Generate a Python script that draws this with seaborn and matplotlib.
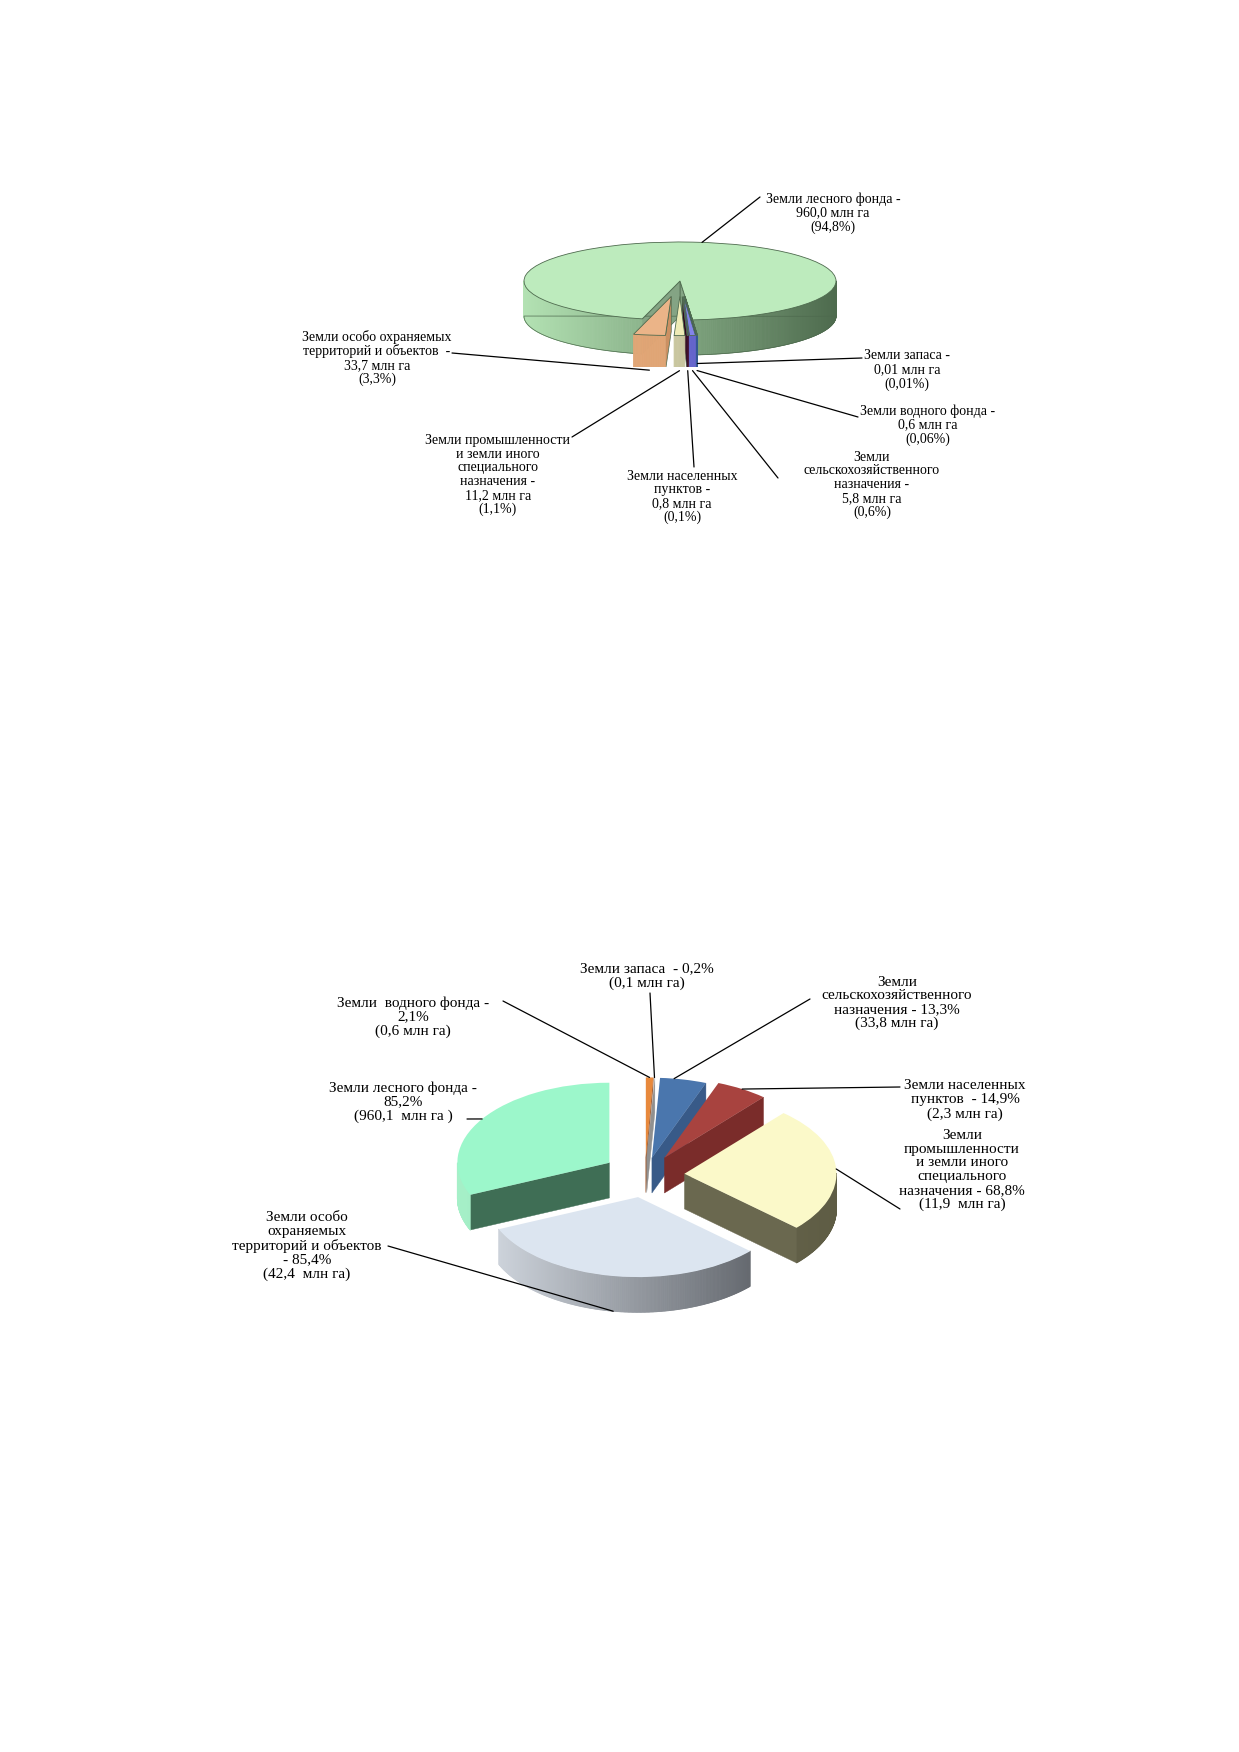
import numpy as np
import pandas as pd
import matplotlib
matplotlib.use("Agg")
import matplotlib.pyplot as plt
from matplotlib.patches import Polygon
from matplotlib.collections import PolyCollection
from matplotlib.colors import to_rgb
import seaborn as sns

# ---------------- data: chart 1 ----------------
c1_names = ["Земли особо охраняемых\nтерриторий и объектов  -",
            "Земли промышленности\nи земли иного\nспециального\nназначения -",
            "Земли населенных\nпунктов -",
            "Земли\nсельскохозяйственного\nназначения -",
            "Земли водного фонда -",
            "Земли запаса -",
            "Земли лесного фонда -"]
c1_area = [33.7, 11.2, 0.8, 5.8, 0.6, 0.01, 960.0]      # млн га
c1_share = [3.3, 1.1, 0.1, 0.6, 0.06, 0.01, 94.8]       # %
c1_top = ["#EBB488", "#EEEBB6", "#5E1A42", "#8383EA", "#4F7FC0", "#9A9A9A", "#BDEBBD"]
c1_side_light = ["#E6AC7C", "#D2CFA8", "#4A1232", "#7272DA", "#3A62A0", "#8A8A8A", "#B3E2B3"]
c1_side_dark = ["#D99C6C", "#BFBC96", "#3A0C28", "#5A5AC0", "#2E5088", "#6A6A6A", "#4E6B4E"]
c1_cut = ["#CB9062", "#B1AE88", "#30081F", "#4C4CA8", "#2A4A80", "#606060", "#84A484"]

# ---------------- data: chart 2 ----------------
c2_fmt = ["Земли  водного фонда -\n{p}%\n({a} млн га)",
          "Земли запаса  - {p}%\n({a} млн га)",
          "Земли\nсельскохозяйственного\nназначения - {p}%\n({a} млн га)",
          "Земли населенных\nпунктов  - {p}%\n({a} млн га)",
          "Земли\nпромышленности\nи земли иного\nспециального\nназначения - {p}%\n({a}  млн га)",
          "Земли особо\nохраняемых\nтерриторий и объектов\n- {p}%\n({a}  млн га)",
          "Земли лесного фонда -\n{p}%\n({a}  млн га )"]
c2_area = [0.6, 0.1, 33.8, 2.3, 11.9, 42.4, 960.1]      # млн га
c2_share = [2.1, 0.2, 13.3, 14.9, 68.8, 85.4, 85.2]     # %
c2_top = ["#E8893C", "#D8D8D8", "#4A76AD", "#A8433F", "#FBF9C9", "#DCE5F0", "#9CF7CB"]
c2_side_light = ["#D07A34", "#C8C8C8", "#3E6496", "#8A3432", "#7A785C", "#D2D8E0", "#A6F0C8"]
c2_side_dark = ["#B0622A", "#A0A0A0", "#34557F", "#702826", "#5E5C44", "#55595F", "#7CC6A0"]
c2_cut = ["#A0582A", "#909090", "#385A88", "#7A2C2A", "#6A684F", "#8F959D", "#3F6E55"]


def ru(v):
    return str(v).replace(".", ",")


c1_labels = [f"{n}\n{ru(a)} млн га\n({ru(s)}%)" for n, a, s in zip(c1_names, c1_area, c1_share)]
c2_labels = [f.format(p=ru(s), a=ru(a)) for f, a, s in zip(c2_fmt, c2_area, c2_share)]

# ---------------- figure ----------------
W, H = 1239, 1752
sns.set_theme(style="white")
plt.rcParams["font.family"] = ["Liberation Serif", "DejaVu Serif"]
fig = plt.figure(figsize=(W / 100, H / 100), dpi=100)
fig.patch.set_facecolor("white")


def fig_xy(x, y):
    return (x / W, 1 - y / H)


def make_axes(cx, cy, pxx, pxy, xlim, ylim):
    left = cx + xlim[0] * pxx
    right = cx + xlim[1] * pxx
    top = cy - ylim[1] * pxy
    bottom = cy - ylim[0] * pxy
    ax = fig.add_axes([left / W, 1 - bottom / H, (right - left) / W, (bottom - top) / H])
    ax._lims = (xlim, ylim)
    return ax


def mix(c1, c2, f):
    a, b = to_rgb(c1), to_rgb(c2)
    return tuple((1 - f) * x + f * y for x, y in zip(a, b))


def extrude(ax, w, depth, light, dark, cut, z, edge=None):
    """Side faces of a pie wedge, derived from the wedge drawn by ax.pie."""
    cx, cy = w.center
    r = w.r
    t1, t2 = w.theta1, w.theta2
    # radial (cut) faces
    for th, vis in ((t1, np.cos(np.radians(t1)) > 1e-6),
                    (t2, np.cos(np.radians(t2)) < -1e-6)):
        if vis:
            ra = np.radians(th)
            ex, ey = cx + r * np.cos(ra), cy + r * np.sin(ra)
            poly = [(cx, cy), (ex, ey), (ex, ey - depth), (cx, cy - depth)]
            ax.add_patch(Polygon(poly, closed=True, facecolor=cut,
                                 edgecolor=edge if edge else cut,
                                 lw=0.5 if edge else 0.3, zorder=z + 1))
    # outer curved face, shaded along x
    n = max(int(abs(t2 - t1) * 2), 2)
    ths = np.linspace(t1, t2, n + 1)
    polys, cols = [], []
    for a, b in zip(ths[:-1], ths[1:]):
        m = np.radians((a + b) / 2)
        if np.sin(m) >= 0:
            continue
        ra, rb = np.radians(a), np.radians(b)
        pa = (cx + r * np.cos(ra), cy + r * np.sin(ra))
        pb = (cx + r * np.cos(rb), cy + r * np.sin(rb))
        polys.append([pa, pb, (pb[0], pb[1] - depth), (pa[0], pa[1] - depth)])
        cols.append(mix(light, dark, (np.cos(m) + 1) / 2))
    if polys:
        ax.add_collection(PolyCollection(polys, facecolors=cols, edgecolors=cols,
                                         linewidths=0.6, zorder=z + 3))
        if edge:
            # bottom outline of the curved face
            xs = [p[3][0] for p in polys] + [polys[-1][2][0]]
            ys = [p[3][1] for p in polys] + [polys[-1][2][1]]
            ax.plot(xs, ys, color=edge, lw=0.5, zorder=z + 4)


def pie3d(ax, values, tops, lights, darks, cuts, explode, startangle, counterclock,
          depth, edge=None, lw=0.0):
    tw, _ = ax.pie(values, colors=tops, explode=explode, startangle=startangle,
                   counterclock=counterclock, center=(0, 0),
                   wedgeprops=dict(linewidth=lw, edgecolor=edge if edge else "none"))
    mids = [np.radians((w.theta1 + w.theta2) / 2) for w in tw]
    rank = np.argsort(np.argsort(-np.sin(np.array(mids))))
    for i, w in enumerate(tw):
        base = 10 + rank[i] * 10
        extrude(ax, w, depth, lights[i], darks[i], cuts[i], base, edge)
        w.set_zorder(base + 6)
    xlim, ylim = ax._lims
    ax.set_aspect("auto")
    ax.set_xlim(*xlim)
    ax.set_ylim(*ylim)
    ax.axis("off")
    return tw


def anchor(w, t, dz=0.0, rf=1.0):
    th = np.radians(w.theta1 + t * (w.theta2 - w.theta1))
    cx, cy = w.center
    return (cx + rf * w.r * np.cos(th), cy + rf * w.r * np.sin(th) - dz)


def label(ax, w, text, tpos, lstart, t, dz, size, rf=1.0):
    fig.text(*fig_xy(*tpos), text, ha="center", va="center", fontsize=size,
             linespacing=1.08, color="black", zorder=3000)
    ax.annotate("", xy=anchor(w, t, dz, rf), xycoords="data",
                xytext=fig_xy(*lstart), textcoords="figure fraction",
                arrowprops=dict(arrowstyle="-", color="black", lw=0.9,
                                shrinkA=0, shrinkB=0),
                annotation_clip=False, zorder=3000)


# ---------------- chart 1 ----------------
d1 = 0.9
ax1 = make_axes(680, 281, 156, 39, (-1.7, 1.7), (-2.2, 1.5))
ex1 = [0.4, 0.4, 0.4, 0.4, 0.4, 0.4, 0.0]
w1 = pie3d(ax1, c1_share, c1_top, c1_side_light, c1_side_dark, c1_cut, ex1, 256, True,
           d1, edge="#4E6A4E", lw=0.6)

c1_tpos = [(377, 358), (498, 475), (682, 497), (872, 485), (928, 425), (907, 370), (833, 213)]
c1_lstart = [(452, 353), (572, 437), (694, 467), (778, 478), (858, 417), (862, 358), (760, 197)]
c1_t = [0.5, 0.5, 0.5, 0.5, 0.5, 0.5, 0.49]
c1_dz = [d1, d1, d1, d1, d1, d1 * 0.8, 0.0]
for i in range(len(c1_share)):
    label(ax1, w1[i], c1_labels[i], c1_tpos[i], c1_lstart[i], c1_t[i], c1_dz[i], 10)

# ---------------- chart 2 ----------------
d2 = 0.44
ax2 = make_axes(645, 1175, 152, 80, (-1.8, 1.8), (-2.1, 1.7))
ex2 = [0.22, 0.22, 0.22, 0.25, 0.26, 0.28, 0.28]
w2 = pie3d(ax2, c2_share, c2_top, c2_side_light, c2_side_dark, c2_cut, ex2, 90, False, d2)

c2_tpos = [(413, 1017), (647, 976), (897, 1003), (965, 1100), (962, 1170), (307, 1246), (403, 1102)]
c2_lstart = [(503, 1001), (650, 993), (810, 999), (900, 1087), (900, 1209), (388, 1246), (467, 1119)]
c2_t = [0.5, 0.5, 0.7, 0.5, 0.5, 0.5, 0.5]
c2_dz = [0, 0, 0, 0, 0, d2, 0]
for i in range(len(c2_share)):
    label(ax2, w2[i], c2_labels[i], c2_tpos[i], c2_lstart[i], c2_t[i], c2_dz[i], 11)

fig.savefig("out.png", dpi=100, facecolor="white")
